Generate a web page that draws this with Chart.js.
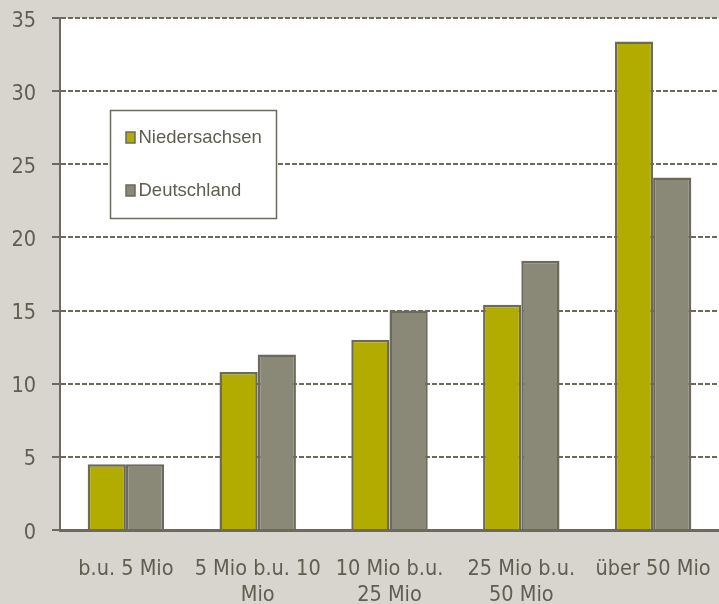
<!DOCTYPE html>
<html>
<head>
<meta charset="utf-8">
<script src="https://cdn.jsdelivr.net/npm/chart.js@4"></script>
<style>
  html, body { margin: 0; padding: 0; background: #d8d5cf; }
  #wrap { width: 719px; height: 604px; }
</style>
</head>
<body>
<div id="wrap"><canvas id="c" width="719" height="604"></canvas></div>
<script>
// Categories (multi-line labels) and series values in percent
const categories = [
  'b.u. 5 Mio',
  ['5 Mio b.u. 10', 'Mio'],
  ['10 Mio b.u.', '25 Mio'],
  ['25 Mio b.u.', '50 Mio'],
  'über 50 Mio'
];
const niedersachsen = [4.5, 10.8, 13.0, 15.4, 33.4];
const deutschland   = [4.5, 12.0, 15.0, 18.4, 24.1];
const yTicks = [0, 5, 10, 15, 20, 25, 30, 35];

const TEXT = '#5f5e50';
const LINE = '#6b6a5c';
const AXIS_FONT = { family: '"DejaVu Sans Condensed", "DejaVu Sans", sans-serif', size: 21.5, lineHeight: 1.2 };

// Canvas background and white plot area
const backgroundPlugin = {
  id: 'backgroundPlugin',
  beforeDraw(chart) {
    const { ctx, chartArea: a } = chart;
    ctx.save();
    ctx.fillStyle = '#d8d5cf';
    ctx.fillRect(0, 0, chart.width, chart.height);
    ctx.fillStyle = '#ffffff';
    ctx.fillRect(a.left, a.top, a.right - a.left, a.bottom - a.top);
    ctx.restore();
  }
};

// Boxed legend inside the plot area
const boxLegend = {
  id: 'boxLegend',
  afterDatasetsDraw(chart) {
    const { ctx } = chart;
    const x = 110, y = 110, w = 166, h = 108;
    ctx.save();
    ctx.fillStyle = '#ffffff';
    ctx.fillRect(x, y, w, h);
    ctx.strokeStyle = LINE;
    ctx.lineWidth = 1.5;
    ctx.strokeRect(x + 0.5, y + 0.5, w, h);
    ctx.font = '18.5px "Liberation Sans", Arial, sans-serif';
    ctx.textBaseline = 'middle';
    const rows = [137.5, 190.5];
    chart.data.datasets.forEach((ds, i) => {
      const cy = rows[i];
      ctx.fillStyle = ds.backgroundColor;
      ctx.fillRect(126, cy - 5.5, 9, 11);
      ctx.strokeStyle = LINE;
      ctx.lineWidth = 1.5;
      ctx.strokeRect(126, cy - 5.5, 9, 11);
      ctx.fillStyle = TEXT;
      ctx.fillText(ds.label, 138.5, cy);
    });
    ctx.restore();
  }
};

new Chart(document.getElementById('c'), {
  type: 'bar',
  data: {
    labels: categories,
    datasets: [
      {
        label: 'Niedersachsen',
        data: niedersachsen,
        backgroundColor: '#b2ab00',
        borderColor: LINE,
        borderWidth: 2.5
      },
      {
        label: 'Deutschland',
        data: deutschland,
        backgroundColor: '#8a8977',
        borderColor: LINE,
        borderWidth: 2.5
      }
    ]
  },
  options: {
    responsive: false,
    animation: false,
    devicePixelRatio: 1,
    layout: { padding: { top: 18, left: 0, right: 0, bottom: 0 } },
    datasets: { bar: { categoryPercentage: 0.58, barPercentage: 1.0 } },
    plugins: {
      legend: { display: false },
      tooltip: { enabled: false }
    },
    scales: {
      x: {
        grid: { display: false, drawTicks: false },
        border: { display: true, color: LINE, width: 3 },
        ticks: {
          color: TEXT,
          font: AXIS_FONT,
          padding: 27,
          maxRotation: 0,
          autoSkip: false
        },
        afterFit(scale) {
          scale.height = 74;
          scale.paddingLeft = 0;
          scale.paddingRight = 0;
        }
      },
      y: {
        min: 0,
        max: 35,
        afterBuildTicks(scale) { scale.ticks = yTicks.map(v => ({ value: v })); },
        grid: {
          color: LINE,
          lineWidth: 2,
          tickLength: 8,
          tickBorderDash: []
        },
        border: { display: true, color: LINE, width: 2, dash: [5, 2] },
        ticks: {
          color: TEXT,
          font: AXIS_FONT,
          padding: 16,
          labelOffset: 3
        },
        afterFit(scale) {
          scale.width = 60;
          scale.paddingTop = 0;
          scale.paddingBottom = 0;
        }
      }
    }
  },
  plugins: [backgroundPlugin, boxLegend]
});
</script>
</body>
</html>
